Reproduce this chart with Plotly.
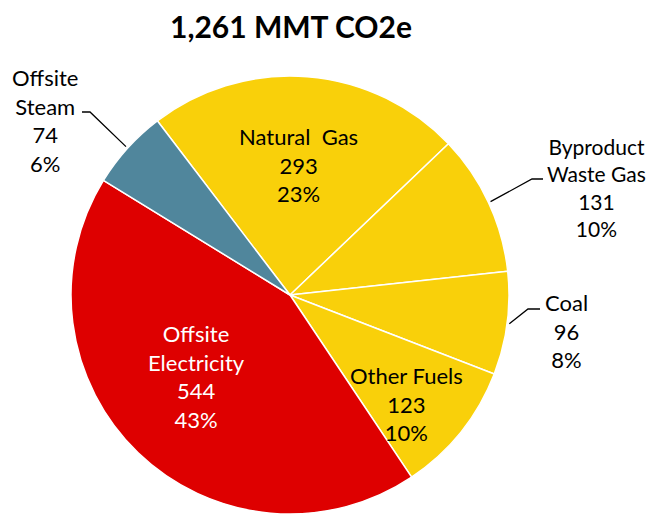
import math
import plotly.graph_objects as go

# ---- data ----
categories = ["Natural Gas", "Byproduct Waste Gas", "Coal", "Other Fuels",
              "Offsite Electricity", "Offsite Steam"]
label_text = ["Natural\u00a0\u00a0Gas", "Byproduct<br>Waste Gas", "Coal", "Other Fuels",
              "Offsite<br>Electricity", "Offsite<br>Steam"]
values = [293, 131, 96, 123, 544, 74]
title_text = "1,261 MMT CO2e"

colors = ["#F9D00A", "#F9D00A", "#F9D00A", "#F9D00A", "#DE0000", "#50869C"]
text_colors = ["black", "black", "black", "black", "white", "black"]

W, H = 657, 515
OFF = 8  # page body margin offset
CX, CY, R = 290, 295, 219
ROT = -37.3

# label centers in screen pixels, font size and leader elbows
label_pos = {
    "Natural Gas": (298, 165, 22, None),
    "Byproduct Waste Gas": (596, 187, 21, (543, 179, 532, 179)),
    "Coal": (566, 331, 22, (540, 309, 528, 309)),
    "Other Fuels": (406, 404, 22, None),
    "Offsite Electricity": (196, 376, 22, None),
    "Offsite Steam": (45, 121, 22, (82, 112, 90, 112)),
}


def px(x):
    return (x - OFF) / W


def py(y):
    return 1 - (y - OFF) / H


fig = go.Figure(go.Pie(
    labels=categories,
    values=values,
    sort=False,
    direction="clockwise",
    rotation=ROT,
    marker=dict(colors=colors, line=dict(color="white", width=1.5)),
    textinfo="none",
    hoverinfo="label+value+percent",
    domain=dict(x=[px(CX - R), px(CX + R)], y=[py(CY + R), py(CY - R)]),
    showlegend=False,
))

total = sum(values)
annotations = []
shapes = []
cum = 0.0
for cat, lab, v, tc in zip(categories, label_text, values, text_colors):
    mid = math.radians(ROT + (cum + v / 2) / total * 360)
    cum += v
    lx, ly, fs, leader = label_pos[cat]
    pct = round(v / total * 100)
    annotations.append(dict(
        x=px(lx), y=py(ly), xref="paper", yref="paper",
        text=f"{lab}<br>{v}<br>{pct}%", showarrow=False,
        font=dict(family="Lato, Calibri, sans-serif", size=fs, color=tc),
        align="center", xanchor="center", yanchor="middle",
    ))
    if leader:
        ex = CX + R * 1.01 * math.sin(mid)
        ey = CY - R * 1.01 * math.cos(mid)
        x0, y0, x1, y1 = leader
        path = (f"M {px(x0)} {py(y0)} L {px(x1)} {py(y1)} "
                f"L {px(ex)} {py(ey)}")
        shapes.append(dict(type="path", path=path, xref="paper", yref="paper",
                           line=dict(color="black", width=1.3)))

fig.update_layout(
    width=W, height=H,
    margin=dict(l=0, r=0, t=0, b=0),
    paper_bgcolor="white",
    title=dict(text=f"<b>{title_text}</b>", x=px(291), y=py(27),
               xanchor="center", yanchor="middle",
               font=dict(family="Lato, Calibri, sans-serif", size=30, color="black")),
    annotations=annotations,
    shapes=shapes,
)

fig.write_html("out.html")
